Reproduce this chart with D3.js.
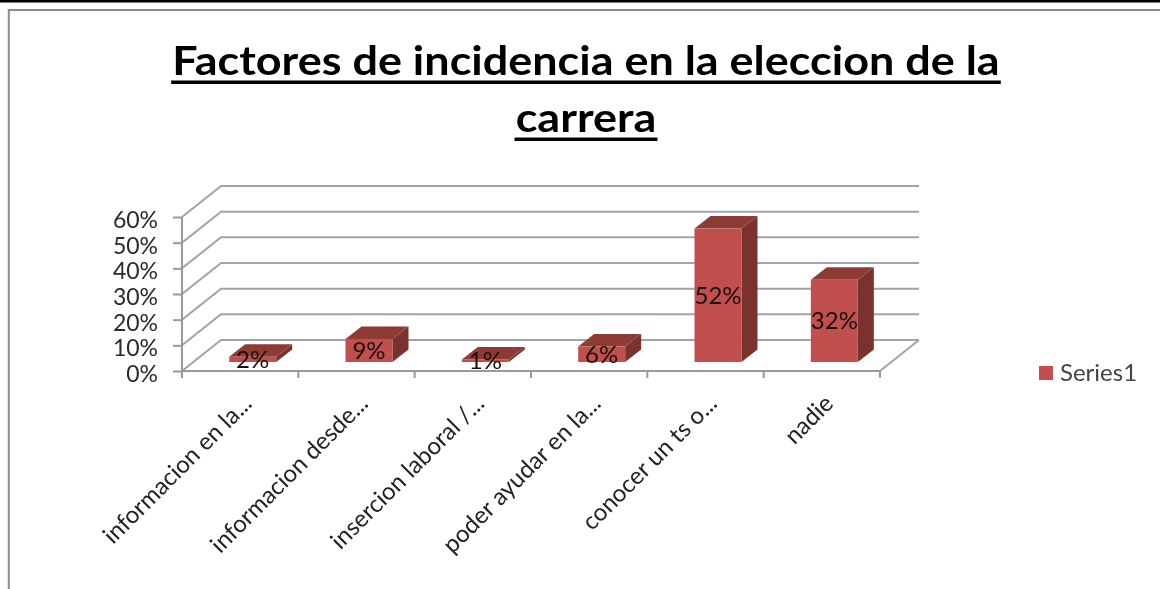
<!DOCTYPE html>
<html>
<head>
<meta charset="utf-8">
<script src="https://cdn.jsdelivr.net/npm/d3@7"></script>
<style>
  html, body { margin: 0; padding: 0; background: #fff; overflow: hidden; }
  svg { display: block; font-family: Lato, "Open Sans", sans-serif; }
  .axis { font-family: Lato, "Open Sans", sans-serif; }
  .axis text { fill: #2a2a2a; font-size: 23px; }
  .axis path, .axis line { stroke: #9a9a9a; stroke-width: 2px; }
</style>
</head>
<body>
<div id="chart"></div>
<script>
const titleLines = ['Factores de incidencia en la eleccion de la', 'carrera']
const categories = [
  'informacion en la...',
  'informacion desde...',
  'insercion laboral /...',
  'poder ayudar en la...',
  'conocer un ts o...',
  'nadie',
]
const values = [2, 9, 1, 6, 52, 32]
const yTicks = [0, 10, 20, 30, 40, 50, 60]
const seriesName = 'Series1'

const width = 1160
const height = 589

// floor is drawn as an oblique projection, back wall sits up and to the right
const wallDx = 39
const wallDy = -31
const barDepthDx = 16
const barDepthDy = -12.5
const barInsetDx = 12.5
const barInsetDy = -9

const x = d3.scaleBand().domain(categories).range([182, 880]).paddingInner(0)
const y = d3.scaleLinear().domain([0, 60]).range([371, 217])
const barWidth = 47

const svg = d3
  .select('#chart')
  .append('svg')
  .attr('width', width)
  .attr('height', height)

svg
  .append('defs')
  .append('filter')
  .attr('id', 'soft')
  .attr('x', '-2%')
  .attr('y', '-2%')
  .attr('width', '104%')
  .attr('height', '104%')
  .append('feGaussianBlur')
  .attr('stdDeviation', 0.7)

const root = svg.append('g').attr('filter', 'url(#soft)')

// page rule and chart frame
root.append('rect').attr('x', 0).attr('y', 0).attr('width', width).attr('height', 2.5).attr('fill', '#000')
root
  .append('path')
  .attr('d', `M8.8,${height}V10H${width}`)
  .attr('fill', 'none')
  .attr('stroke', '#8c8c8c')
  .attr('stroke-width', 2)

// title, stretched sideways like the original image
const titleStretch = 1.124
const titles = root
  .selectAll('g.title')
  .data(titleLines)
  .join('g')
  .attr('class', 'title')
  .attr('transform', (d, i) => `translate(586,${75 + i * 57}) scale(${titleStretch},1)`)
titles
  .append('text')
  .attr('text-anchor', 'middle')
  .attr('font-size', 40)
  .attr('font-weight', 700)
  .attr('fill', '#000')
  .text(d => d)
titles.each(function() {
  const g = d3.select(this)
  const w = g.select('text').node().getComputedTextLength()
  g.append('rect')
    .attr('x', -w / 2 - 1)
    .attr('y', 5.5)
    .attr('width', w + 2)
    .attr('height', 3.5)
    .attr('fill', '#000')
})

// back wall gridlines and their slanted run to the front axis
const grid = root.append('g').attr('stroke', '#a3a3a3').attr('stroke-width', 2).attr('fill', 'none')
const [x0, x1] = x.range()
grid
  .selectAll('path.grid')
  .data(yTicks)
  .join('path')
  .attr('class', 'grid')
  .attr('d', d => `M${x0},${y(d)}L${x0 + wallDx},${y(d) + wallDy}H${x1 + wallDx}`)
grid
  .append('path')
  .attr('d', `M${x1},${y(0)}L${x1 + wallDx},${y(0) + wallDy}`)

// axes
const yAxis = d3
  .axisLeft(y)
  .tickValues(yTicks)
  .tickFormat(d => d + '%')
  .tickSize(9)
  .tickPadding(15)
const yG = root.append('g').attr('class', 'axis').attr('transform', `translate(${x0},0)`).call(yAxis)
yG.select('.domain').attr('d', `M0,${y(0) + 6}V${y(60)}`)
yG.selectAll('.tick text').attr('dy', '0.46em')

const xAxis = d3.axisBottom(x).tickSize(0).tickFormat('')
const xG = root.append('g').attr('class', 'axis').attr('transform', `translate(0,${y(0)})`).call(xAxis)
xG.select('.domain').attr('d', `M${x0},0H${x1}`)
xG
  .selectAll('line.edge')
  .data(d3.range(categories.length + 1))
  .join('line')
  .attr('class', 'edge')
  .attr('x1', i => x0 + i * x.step())
  .attr('x2', i => x0 + i * x.step())
  .attr('y1', 0)
  .attr('y2', 7)

// category labels, rotated so they end just under the middle of each band
root
  .selectAll('text.cat')
  .data(categories)
  .join('text')
  .attr('class', 'cat')
  .attr('text-anchor', 'end')
  .attr('font-size', 24)
  .attr('fill', '#222')
  .attr('transform', d => `translate(${x(d) + x.bandwidth() / 2 + 13},${y(0) + 34}) rotate(-45)`)
  .text(d => d)

// bars
const bars = root
  .selectAll('g.bar')
  .data(categories.map((c, i) => ({ c, v: values[i] })))
  .join('g')
  .attr('class', 'bar')
  .attr('transform', d => `translate(${x(d.c) + x.bandwidth() / 2 + barInsetDx - barWidth / 2},${barInsetDy})`)

bars
  .append('path')
  .attr('fill', '#7a322f')
  .attr('d', d => `M${barWidth},${y(d.v)}l${barDepthDx},${barDepthDy}V${y(0) + barDepthDy}l${-barDepthDx},${-barDepthDy}Z`)
bars
  .append('path')
  .attr('fill', '#8f3a36')
  .attr('d', d => `M0,${y(d.v)}l${barDepthDx},${barDepthDy}h${barWidth}l${-barDepthDx},${-barDepthDy}Z`)
bars
  .append('rect')
  .attr('x', 0)
  .attr('y', d => y(d.v))
  .attr('width', barWidth)
  .attr('height', d => y(0) - y(d.v))
  .attr('fill', '#c0504d')

// value labels sit around the middle of the front face
bars
  .append('text')
  .attr('x', barWidth / 2)
  .attr('y', d => (y(d.v) + y(0)) / 2 + 8.5)
  .attr('text-anchor', 'middle')
  .attr('font-size', 24)
  .attr('fill', '#1a1010')
  .text(d => d.v + '%')

// legend
const legend = root.append('g').attr('transform', 'translate(1039,366)')
legend.append('rect').attr('width', 14).attr('height', 14).attr('fill', '#c0504d')
legend
  .append('text')
  .attr('x', 21)
  .attr('y', 15)
  .attr('font-size', 24)
  .attr('fill', '#444')
  .text(seriesName)
</script>
</body>
</html>
